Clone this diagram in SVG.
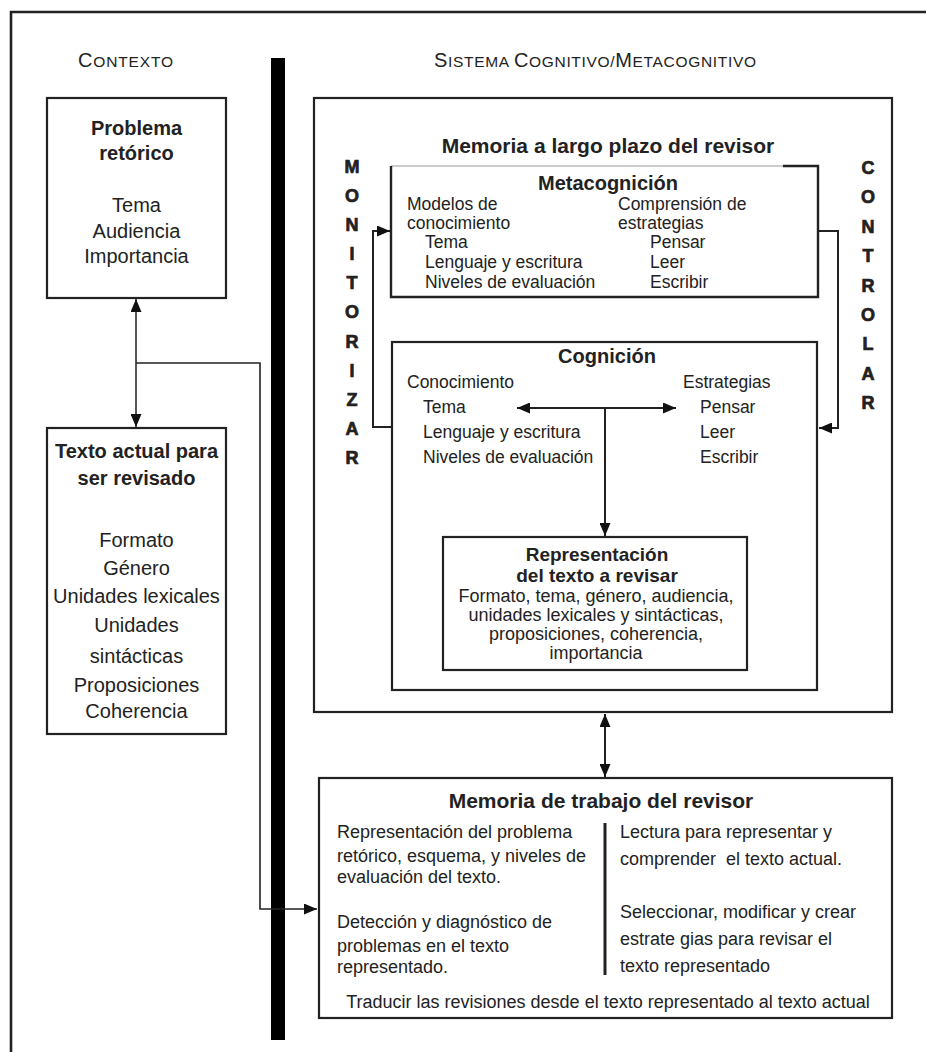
<svg xmlns="http://www.w3.org/2000/svg" width="926" height="1052" viewBox="0 0 926 1052">
  <style>
    text { font-family: "Liberation Sans", Arial, sans-serif; fill: #222; }
    .hdr { font-size: 20px; }
    .hdr tspan.sc { font-size: 15.5px; }
    .ttl { font-size: 20px; font-weight: bold; text-anchor: middle; }
    .ttl-r { font-size: 19px; font-weight: bold; text-anchor: middle; }
    .ttl-l { font-size: 21px; font-weight: bold; text-anchor: middle; }
    .ctx { font-size: 20px; text-anchor: middle; }
    .ctx-b { font-size: 20px; font-weight: bold; text-anchor: middle; }
    .sm { font-size: 17.5px; }
    .md { font-size: 18px; }
    .mid { text-anchor: middle; }
    .vert { font-size: 18px; font-weight: bold; text-anchor: middle; stroke: #222; stroke-width: 0.7; }
    .box { fill: #fff; stroke: #222; stroke-width: 2.2; }
    .ln { fill: none; stroke: #222; stroke-width: 2; }
    .ln-g { fill: none; stroke: #555; stroke-width: 2; }
    .ln-t { fill: none; stroke: #222; stroke-width: 1.6; }
  </style>
  <defs>
    <marker id="ah" viewBox="0 0 13 11" refX="13" refY="5.5" markerWidth="13" markerHeight="11" orient="auto-start-reverse" markerUnits="userSpaceOnUse">
      <path d="M0,0 L13,5.5 L0,11 Z" fill="#111"/>
    </marker>
  </defs>

  <rect width="926" height="1052" fill="#fff"/>

  <!-- outer frame (top and left edges) -->
  <path d="M11,1052 V12 H926" fill="none" stroke="#222" stroke-width="2.6"/>

  <!-- column headers -->
  <text class="hdr" x="78" y="67" textLength="95">C<tspan class="sc">ONTEXTO</tspan></text>
  <text class="hdr" x="434" y="67" textLength="322">S<tspan class="sc">ISTEMA </tspan>C<tspan class="sc">OGNITIVO/</tspan>M<tspan class="sc">ETACOGNITIVO</tspan></text>

  <!-- divider bar between context and system -->
  <rect x="271" y="58" width="14" height="982" fill="#000"/>

  <!-- context: rhetorical problem -->
  <g id="problema-retorico">
    <rect class="box" x="47" y="98" width="179" height="200"/>
    <text class="ctx-b" x="136.5" y="135">Problema</text>
    <text class="ctx-b" x="136.5" y="160">retórico</text>
    <text class="ctx" x="136.5" y="212">Tema</text>
    <text class="ctx" x="136.5" y="238">Audiencia</text>
    <text class="ctx" x="136.5" y="263">Importancia</text>
  </g>

  <!-- context: current text -->
  <g id="texto-actual">
    <rect class="box" x="47" y="428" width="179" height="306"/>
    <text class="ctx-b" x="136.5" y="458">Texto actual para</text>
    <text class="ctx-b" x="136.5" y="485">ser revisado</text>
    <text class="ctx" x="136.5" y="547">Formato</text>
    <text class="ctx" x="136.5" y="575">Género</text>
    <text class="ctx" x="136.5" y="603">Unidades lexicales</text>
    <text class="ctx" x="136.5" y="632">Unidades</text>
    <text class="ctx" x="136.5" y="663">sintácticas</text>
    <text class="ctx" x="136.5" y="692">Proposiciones</text>
    <text class="ctx" x="136.5" y="718">Coherencia</text>
  </g>

  <!-- long-term memory -->
  <g id="memoria-largo-plazo">
    <rect class="box" x="314" y="98" width="578" height="614"/>
    <text class="ttl-l" x="608" y="153">Memoria a largo plazo del revisor</text>
  </g>

  <!-- monitor label -->
  <g id="monitorizar">
    <text class="vert" x="352" y="173">M</text>
    <text class="vert" x="352" y="202">O</text>
    <text class="vert" x="352" y="231">N</text>
    <text class="vert" x="352" y="260">I</text>
    <text class="vert" x="352" y="289">T</text>
    <text class="vert" x="352" y="318">O</text>
    <text class="vert" x="352" y="348">R</text>
    <text class="vert" x="352" y="377">I</text>
    <text class="vert" x="352" y="406">Z</text>
    <text class="vert" x="352" y="435">A</text>
    <text class="vert" x="352" y="464">R</text>
  </g>

  <!-- control label -->
  <g id="controlar">
    <text class="vert" x="868" y="174">C</text>
    <text class="vert" x="868" y="203">O</text>
    <text class="vert" x="868" y="233">N</text>
    <text class="vert" x="868" y="262">T</text>
    <text class="vert" x="868" y="292">R</text>
    <text class="vert" x="868" y="321">O</text>
    <text class="vert" x="868" y="350">L</text>
    <text class="vert" x="868" y="380">A</text>
    <text class="vert" x="868" y="409">R</text>
  </g>

  <!-- metacognition -->
  <g id="metacognicion">
    <path d="M391,166 H783" fill="none" stroke="#bbb" stroke-width="1.5"/>
    <path d="M783,166 H818 V297 H391 V166" fill="none" stroke="#222" stroke-width="2.4"/>
    <text class="ttl" x="608" y="190">Metacognición</text>
    <text class="sm" x="407" y="210">Modelos de</text>
    <text class="sm" x="407" y="229">conocimiento</text>
    <text class="sm" x="425" y="248">Tema</text>
    <text class="sm" x="425" y="268">Lenguaje y escritura</text>
    <text class="sm" x="425" y="288">Niveles de evaluación</text>
    <text class="sm" x="618" y="210">Comprensión de</text>
    <text class="sm" x="618" y="229">estrategias</text>
    <text class="sm" x="650" y="248">Pensar</text>
    <text class="sm" x="650" y="268">Leer</text>
    <text class="sm" x="650" y="288">Escribir</text>
  </g>

  <!-- cognition -->
  <g id="cognicion">
    <rect x="392" y="342" width="425" height="348" fill="none" stroke="#222" stroke-width="2.2"/>
    <text class="ttl" x="607" y="363">Cognición</text>
    <text class="sm" x="407" y="388">Conocimiento</text>
    <text class="sm" x="423" y="413">Tema</text>
    <text class="sm" x="423" y="438">Lenguaje y escritura</text>
    <text class="sm" x="423" y="463">Niveles de evaluación</text>
    <text class="sm" x="683" y="388">Estrategias</text>
    <text class="sm" x="700" y="413">Pensar</text>
    <text class="sm" x="700" y="438">Leer</text>
    <text class="sm" x="700" y="463">Escribir</text>
  </g>

  <!-- representation of the text -->
  <g id="representacion">
    <rect class="box" x="443" y="537" width="304" height="133"/>
    <text class="ttl-r" x="597" y="561">Representación</text>
    <text class="ttl-r" x="597" y="582">del texto a revisar</text>
    <text class="md mid" x="596" y="602">Formato, tema, género, audiencia,</text>
    <text class="md mid" x="596" y="621">unidades lexicales y sintácticas,</text>
    <text class="md mid" x="596" y="640">proposiciones, coherencia,</text>
    <text class="md mid" x="596" y="659">importancia</text>
  </g>

  <!-- working memory -->
  <g id="memoria-trabajo">
    <rect class="box" x="319" y="778" width="573" height="240"/>
    <text class="ttl-l" x="601" y="808">Memoria de trabajo del revisor</text>
    <path d="M605,823 V975" fill="none" stroke="#222" stroke-width="3"/>
    <text class="md" x="337" y="838">Representación del problema</text>
    <text class="md" x="337" y="862">retórico, esquema, y niveles de</text>
    <text class="md" x="337" y="883">evaluación del texto.</text>
    <text class="md" x="337" y="928">Detección y diagnóstico de</text>
    <text class="md" x="337" y="952">problemas en el texto</text>
    <text class="md" x="337" y="973">representado.</text>
    <text class="md" x="620" y="838">Lectura para representar y</text>
    <text class="md" x="620" y="865" style="white-space:pre">comprender  el texto actual.</text>
    <text class="md" x="620" y="918">Seleccionar, modificar y crear</text>
    <text class="md" x="620" y="945">estrate gias para revisar el</text>
    <text class="md" x="620" y="972">texto representado</text>
    <text class="md mid" x="608" y="1008">Traducir las revisiones desde el texto representado al texto actual</text>
  </g>

  <!-- connectors (drawn over the box fills) -->
  <g id="connectors">
    <!-- rhetorical problem <-> current text -->
    <path class="ln-g" d="M136,299 V427" marker-start="url(#ah)" marker-end="url(#ah)"/>
    <!-- current text branch to working memory -->
    <path class="ln-t" d="M136,363 H260 V909 H317" marker-end="url(#ah)"/>
    <!-- monitor loop -->
    <path class="ln" d="M392,427 H373 V231 H390" marker-end="url(#ah)"/>
    <!-- control loop -->
    <path class="ln" d="M818,231 H838 V428 H819" marker-end="url(#ah)"/>
    <!-- cognition knowledge <-> strategies -->
    <path class="ln" d="M517,408 H676" marker-start="url(#ah)" marker-end="url(#ah)"/>
    <!-- cognition down to text representation -->
    <path class="ln" d="M605,408 V536" marker-end="url(#ah)"/>
    <!-- long-term memory <-> working memory -->
    <path class="ln" d="M605,714 V777" marker-start="url(#ah)" marker-end="url(#ah)"/>
  </g>
</svg>
